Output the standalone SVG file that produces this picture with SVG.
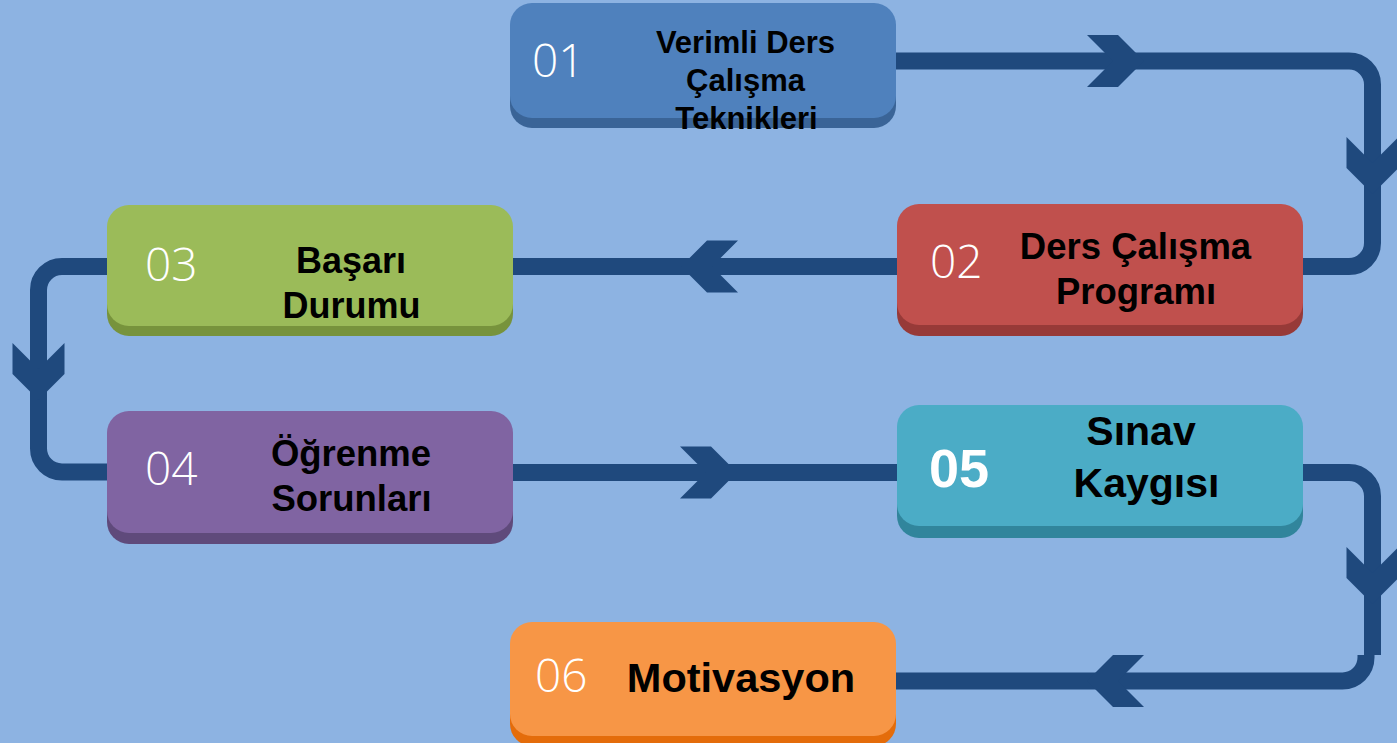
<svg xmlns="http://www.w3.org/2000/svg" xmlns:xlink="http://www.w3.org/1999/xlink" width="1397" height="743" viewBox="0 0 1397 743">
<style>
.conn{fill:none;stroke:#1F497D;stroke-width:17;stroke-linecap:butt}
.chev{fill:#1F497D}
.num{font-family:"Open Sans",sans-serif;font-weight:300;font-size:46px;fill:#FFFFFF}
.lbl{font-family:"Liberation Sans",Arial,sans-serif;font-weight:bold;fill:#000000;text-anchor:middle}
</style>
<defs>
<path id="chev" d="M-57,-26 H-26 L0,0 L-26,26 H-57 L-31,0 Z"/>
</defs>
<rect x="0" y="0" width="1397" height="743" fill="#8DB3E2"/>
<g id="connectors">
<path class="conn" d="M896,61 H1349 A23.5,23.5 0 0 1 1372.5,84.5 V243 A23.5,23.5 0 0 1 1349,266.5 H1303"/>
<path class="conn" d="M897,266.5 H513"/>
<path class="conn" d="M107,266.5 H62 A23.5,23.5 0 0 0 38.5,290 V448.5 A23.5,23.5 0 0 0 62,472 H107"/>
<path class="conn" d="M513,472.5 H897"/>
<path class="conn" d="M1303,472.5 H1349 A23.5,23.5 0 0 1 1372.5,496 V655"/>
<path class="conn" d="M1366,655 V657.5 A23.5,23.5 0 0 1 1342.5,681 H895"/>
<use class="chev" xlink:href="#chev" href="#chev" transform="translate(1144,61)"/>
<use class="chev" xlink:href="#chev" href="#chev" transform="translate(1372.5,194) rotate(90)"/>
<use class="chev" xlink:href="#chev" href="#chev" transform="translate(681,266.5) rotate(180)"/>
<use class="chev" xlink:href="#chev" href="#chev" transform="translate(38.5,400) rotate(90)"/>
<use class="chev" xlink:href="#chev" href="#chev" transform="translate(737,472.5)"/>
<use class="chev" xlink:href="#chev" href="#chev" transform="translate(1372.5,604) rotate(90)"/>
<use class="chev" xlink:href="#chev" href="#chev" transform="translate(1087,681) rotate(180)"/>
</g>
<g id="node01">
<rect x="510" y="13" width="386" height="115" rx="22" fill="#3A6497"/>
<rect x="510" y="3" width="386" height="115" rx="22" fill="#4F81BD"/>
<text class="num" x="532" y="77">01</text>
<text class="lbl" font-size="31" x="745.5" y="53">Verimli Ders</text>
<text class="lbl" font-size="31" x="745.5" y="91">Çalışma</text>
<text class="lbl" font-size="31" x="746.5" y="129">Teknikleri</text>
</g>
<g id="node02">
<rect x="897" y="215" width="406" height="121" rx="22" fill="#973A38"/>
<rect x="897" y="204" width="406" height="121" rx="22" fill="#C0504D"/>
<text class="num" x="930" y="278">02</text>
<text class="lbl" font-size="36.5" x="1135.5" y="259">Ders Çalışma</text>
<text class="lbl" font-size="36.5" x="1136" y="304">Programı</text>
</g>
<g id="node03">
<rect x="107" y="215" width="406" height="121" rx="22" fill="#77933C"/>
<rect x="107" y="205" width="406" height="121" rx="22" fill="#9BBB59"/>
<text class="num" x="145" y="281">03</text>
<text class="lbl" font-size="36" x="351" y="273">Başarı</text>
<text class="lbl" font-size="36" x="351.5" y="318">Durumu</text>
</g>
<g id="node04">
<rect x="107" y="422" width="406" height="122" rx="22" fill="#5F4A7B"/>
<rect x="107" y="411" width="406" height="122" rx="22" fill="#8064A2"/>
<text class="num" x="145" y="485">04</text>
<text class="lbl" font-size="36.5" x="351" y="466">Öğrenme</text>
<text class="lbl" font-size="36.5" x="351.5" y="511">Sorunları</text>
</g>
<g id="node05">
<rect x="897" y="417" width="406" height="121" rx="22" fill="#31859C"/>
<rect x="897" y="405" width="406" height="121" rx="22" fill="#4BACC6"/>
<text x="929" y="487" font-family="Liberation Sans, Arial, sans-serif" font-weight="bold" font-size="54" fill="#FFFFFF">05</text>
<text class="lbl" font-size="41" x="1141" y="445">Sınav</text>
<text class="lbl" font-size="41" x="1146.5" y="497">Kaygısı</text>
</g>
<g id="node06">
<rect x="510" y="632" width="386" height="114" rx="22" fill="#E46C0A"/>
<rect x="510" y="622" width="386" height="114" rx="22" fill="#F79646"/>
<text class="num" x="535" y="692">06</text>
<text class="lbl" font-size="41.5" x="741" y="692">Motivasyon</text>
</g>
</svg>
